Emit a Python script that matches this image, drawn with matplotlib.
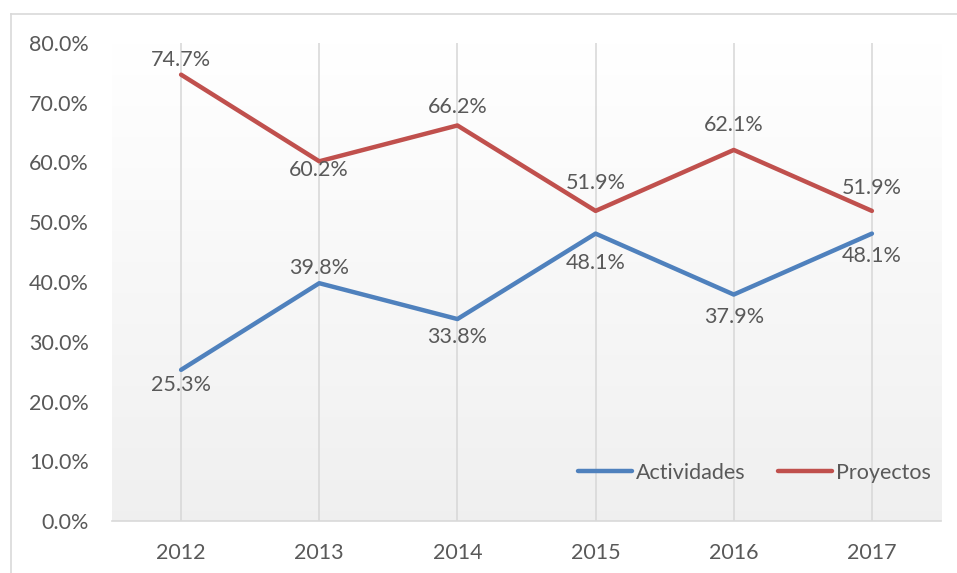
import matplotlib
matplotlib.use("Agg")
import matplotlib.pyplot as plt
import numpy as np
from matplotlib.lines import Line2D

years = ["2012", "2013", "2014", "2015", "2016", "2017"]
actividades = [25.3, 39.8, 33.8, 48.1, 37.9, 48.1]
proyectos = [74.7, 60.2, 66.2, 51.9, 62.1, 51.9]
yticks = [0, 10, 20, 30, 40, 50, 60, 70, 80]

# label vertical offsets (pixels) relative to the point, as placed in the reference
act_off = [-15, 15, -18, -29, -22.5, -22.5]
pro_off = [14.5, -9, 18, 28, 25, 23]

plt.rcParams['font.family'] = ['Lato', 'DejaVu Sans']
txt = "#595959"
blue = "#4F81BD"
red = "#C0504D"
FS = 15.5

W, H = 957, 573
fig = plt.figure(figsize=(W/100, H/100), dpi=100)
fig.add_artist(Line2D([11/W, 11/W], [0, 1 - 14/H], transform=fig.transFigure, color="#d9d9d9", lw=1.2))
fig.add_artist(Line2D([11/W, 1], [1 - 14/H, 1 - 14/H], transform=fig.transFigure, color="#d9d9d9", lw=1.2))

left, right, top, bottom = 112, 941, 43, 521
ax = fig.add_axes([left/W, 1 - bottom/H, (right-left)/W, (bottom-top)/H])
x = np.arange(len(years))
ax.set_xlim(-0.5, len(years) - 0.5)
ax.set_ylim(0, 80)

grad = np.linspace(1.0, 0.0, 256).reshape(-1, 1)
c_top = np.array([1.0, 1.0, 1.0])
c_bot = np.array([0.94, 0.94, 0.94])
img = c_bot + (c_top - c_bot) * grad[..., None]
ax.imshow(img, extent=[-0.5, len(years) - 0.5, 0, 80], aspect="auto", zorder=0)

for xi in x:
    ax.axvline(xi, color="#d9d9d9", lw=1.2, zorder=1)

ax.plot(x, actividades, color=blue, lw=3.2, solid_capstyle="round", solid_joinstyle="round", zorder=3, label="Actividades")
ax.plot(x, proyectos, color=red, lw=3.2, solid_capstyle="round", solid_joinstyle="round", zorder=3, label="Proyectos")

def lab(vals, offs):
    for xi, v, o in zip(x, vals, offs):
        ax.annotate(f"{v:.1f}%", (xi, v), xytext=(0, o), textcoords="offset pixels",
                    ha="center", va="center", fontsize=FS, color=txt, zorder=4)

lab(actividades, act_off)
lab(proyectos, pro_off)

ax.set_xticks(x)
ax.set_xticklabels(years)
ax.set_yticks(yticks)
ax.set_yticklabels([f"{t:.1f}%" for t in yticks])
ax.tick_params(axis="both", length=0, labelsize=FS, labelcolor=txt)
ax.tick_params(axis="x", pad=16)
ax.tick_params(axis="y", pad=16.5)
for s in ["top", "right", "left"]:
    ax.spines[s].set_visible(False)
ax.spines["bottom"].set_color("#d9d9d9")
ax.spines["bottom"].set_linewidth(1.2)

leg = ax.legend(loc="lower right", bbox_to_anchor=(1.011, 0.040), ncol=2, frameon=False,
                fontsize=FS, handlelength=2.5, handletextpad=0.2, columnspacing=1.5)
for t in leg.get_texts():
    t.set_color(txt)

fig.savefig("out.png", dpi=100)
